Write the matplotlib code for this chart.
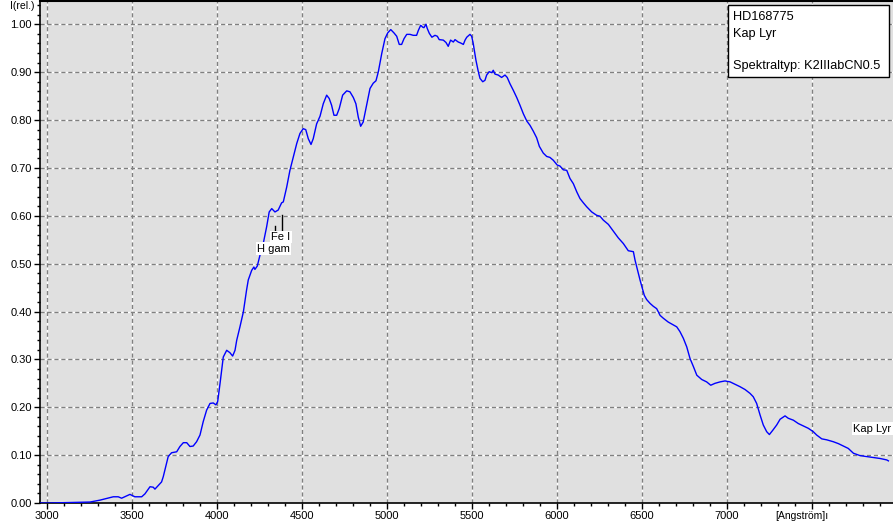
from matplotlib import pyplot as plt
from matplotlib.patches import Rectangle

plt.rcParams['font.family'] = ['Liberation Sans', 'DejaVu Sans']

# spectrum of HD168775 (Kap Lyr)
wavelength = [2965, 3019, 3255, 3314, 3392, 3421, 3441, 3490, 3519, 3559, 3578, 3608, 3627, 3637,
              3676, 3686, 3715, 3735, 3765, 3784, 3804, 3824, 3843, 3862, 3882, 3902, 3921, 3941,
              3961, 3980, 3996, 4006, 4020, 4039, 4059, 4078, 4094, 4108, 4118, 4137, 4157, 4176,
              4186, 4206, 4219, 4225, 4239, 4255, 4274, 4294, 4309, 4324, 4343, 4362, 4382, 4392,
              4412, 4431, 4451, 4471, 4490, 4509, 4524, 4539, 4555, 4568, 4588, 4608, 4627, 4647,
              4662, 4676, 4690, 4706, 4721, 4741, 4765, 4784, 4804, 4819, 4833, 4847, 4862, 4882,
              4902, 4921, 4937, 4951, 4971, 4990, 5006, 5024, 5043, 5059, 5074, 5088, 5102, 5118,
              5137, 5156, 5176, 5186, 5200, 5212, 5219, 5231, 5239, 5251, 5266, 5284, 5298, 5309,
              5333, 5349, 5362, 5376, 5392, 5402, 5421, 5435, 5451, 5461, 5471, 5490, 5500, 5509,
              5525, 5539, 5549, 5565, 5578, 5588, 5603, 5618, 5627, 5637, 5656, 5676, 5696, 5709,
              5725, 5745, 5765, 5784, 5804, 5824, 5843, 5862, 5882, 5898, 5921, 5941, 5960, 5980,
              6003, 6019, 6039, 6059, 6078, 6098, 6118, 6137, 6157, 6176, 6206, 6235, 6255, 6274,
              6304, 6333, 6362, 6392, 6421, 6451, 6461, 6476, 6490, 6506, 6515, 6529, 6549, 6568,
              6588, 6608, 6627, 6656, 6686, 6706, 6725, 6745, 6765, 6784, 6804, 6824, 6853, 6882,
              6906, 6931, 6961, 6990, 7020, 7049, 7078, 7108, 7137, 7156, 7176, 7196, 7215, 7235,
              7251, 7271, 7294, 7314, 7343, 7362, 7392, 7421, 7451, 7480, 7509, 7529, 7559, 7588,
              7627, 7657, 7686, 7715, 7745, 7784, 7824, 7863, 7902, 7941, 7951]
intensity = [0.0, 0.0, 0.002, 0.006, 0.013, 0.013, 0.01, 0.018, 0.013, 0.013, 0.019, 0.034, 0.033, 0.029,
             0.044, 0.055, 0.097, 0.105, 0.107, 0.118, 0.126, 0.126, 0.118, 0.119, 0.128, 0.142, 0.17, 0.194,
             0.208, 0.209, 0.205, 0.212, 0.25, 0.305, 0.319, 0.314, 0.307, 0.319, 0.34, 0.368, 0.399, 0.445,
             0.466, 0.486, 0.493, 0.488, 0.495, 0.518, 0.542, 0.577, 0.608, 0.615, 0.608, 0.612, 0.627, 0.629,
             0.66, 0.695, 0.723, 0.751, 0.772, 0.782, 0.78, 0.761, 0.749, 0.761, 0.792, 0.808, 0.834, 0.852,
             0.845, 0.831, 0.81, 0.81, 0.824, 0.852, 0.861, 0.859, 0.847, 0.834, 0.806, 0.787, 0.796, 0.831,
             0.866, 0.877, 0.882, 0.901, 0.939, 0.97, 0.982, 0.989, 0.982, 0.975, 0.958, 0.958, 0.97, 0.979,
             0.979, 0.977, 0.977, 0.987, 0.998, 0.994, 0.993, 1.0, 0.991, 0.981, 0.973, 0.977, 0.975, 0.968,
             0.967, 0.962, 0.954, 0.967, 0.963, 0.968, 0.963, 0.961, 0.958, 0.967, 0.973, 0.979, 0.975, 0.96,
             0.925, 0.901, 0.887, 0.88, 0.883, 0.894, 0.901, 0.899, 0.904, 0.896, 0.894, 0.889, 0.894, 0.889,
             0.876, 0.862, 0.847, 0.831, 0.813, 0.798, 0.789, 0.777, 0.763, 0.745, 0.731, 0.724, 0.722, 0.716,
             0.706, 0.704, 0.696, 0.695, 0.678, 0.667, 0.65, 0.636, 0.627, 0.619, 0.608, 0.601, 0.599, 0.591,
             0.582, 0.568, 0.554, 0.542, 0.527, 0.525, 0.507, 0.486, 0.466, 0.445, 0.434, 0.425, 0.417, 0.411,
             0.406, 0.392, 0.386, 0.378, 0.372, 0.368, 0.358, 0.344, 0.326, 0.302, 0.285, 0.267, 0.258, 0.253,
             0.246, 0.25, 0.253, 0.255, 0.253, 0.248, 0.243, 0.237, 0.229, 0.222, 0.208, 0.184, 0.163, 0.149,
             0.143, 0.152, 0.163, 0.175, 0.182, 0.177, 0.173, 0.166, 0.161, 0.156, 0.149, 0.142, 0.134, 0.132,
             0.128, 0.124, 0.119, 0.114, 0.104, 0.099, 0.097, 0.095, 0.093, 0.09, 0.088]

x_ticks = [3000, 3500, 4000, 4500, 5000, 5500, 6000, 6500, 7000, 7500]
x_labels = ['3000', '3500', '4000', '4500', '5000', '5500', '6000', '6500', '7000', '']
y_ticks = [0.0, 0.1, 0.2, 0.3, 0.4, 0.5, 0.6, 0.7, 0.8, 0.9, 1.0]

# identified lines: (name, wavelength, top, bottom)
line_names = ['Fe I', 'H gam']
line_wl = [4386, 4343]
line_top = [0.612, 0.588]
line_bottom = [0.572, 0.565]

info_lines = ['HD168775', 'Kap Lyr', '', 'Spektraltyp: K2IIIabCN0.5']

W, H = 893, 525
fig = plt.figure(figsize=(W / 100, H / 100), dpi=100)
ax = fig.add_axes([40 / W, 22 / H, (W - 40) / W, 502 / H])
ax.set_facecolor('#e0e0e0')

ax.set_xlim(2961, 7978)
ax.set_ylim(0, 1.0487)

ax.set_xticks(x_ticks)
ax.set_xticklabels(x_labels)
ax.set_xticks(range(3000, 8000, 100), minor=True)
ax.set_yticks(y_ticks)
ax.set_yticklabels(['%.2f' % v for v in y_ticks])
ax.set_yticks([i * 0.02 for i in range(53)], minor=True)
ax.tick_params(which='major', length=4, width=1, labelsize=8, direction='out', pad=2)
ax.tick_params(which='minor', length=2, width=1, direction='out')

for s in ['top', 'right']:
    ax.spines[s].set_visible(False)
for s in ['left', 'bottom']:
    ax.spines[s].set_linewidth(1.2)

# dashed grid (white underneath, grey dashes on top)
for xv in x_ticks:
    ax.axvline(xv, color='white', lw=1, zorder=0.5)
    ax.axvline(xv, color='#808080', lw=1, ls=(0, (3, 2)), zorder=0.6)
for yv in y_ticks[1:]:
    ax.axhline(yv, color='white', lw=1, zorder=0.5)
    ax.axhline(yv, color='#808080', lw=1, ls=(0, (3, 2)), zorder=0.6)
ax.plot([2961, 7978], [1.0487, 1.0487], color='black', lw=1.5, clip_on=False)

ax.plot(wavelength, intensity, color='#0000ff', lw=1, zorder=3)

# line identifications
for name, wl, top, bot in zip(line_names, line_wl, line_top, line_bottom):
    ax.plot([wl, wl], [top - 0.01, bot - 0.01], color='black', lw=1, zorder=4)
ax.text(4378, 0.556, 'Fe I', fontsize=8, ha='center', va='center', zorder=5,
        bbox=dict(facecolor='white', edgecolor='none', pad=1))
ax.text(4335, 0.531, 'H gam', fontsize=8, ha='center', va='center', zorder=5,
        bbox=dict(facecolor='white', edgecolor='none', pad=1))

ax.text(7745, 0.155, 'Kap Lyr', fontsize=8, ha='left', va='center', zorder=5,
        bbox=dict(facecolor='white', edgecolor='none', pad=1))

# info box top right
fig.patches.append(Rectangle((728 / W, 1 - 77 / H), 161 / W, 72 / H, transform=fig.transFigure,
                             facecolor='white', edgecolor='black', lw=1, zorder=10))
for i, t in enumerate(info_lines):
    fig.text(733 / W, 1 - (17 + i * 16.5) / H, t, fontsize=9.2, ha='left', va='center', zorder=11)

fig.text(10 / W, 1 - 6 / H, 'I(rel.)', fontsize=7.5, ha='left', va='center')
fig.text(775 / W, 1 - 516 / H, '[Angström]ı', fontsize=7.5, ha='left', va='center')

fig.savefig('out.png', dpi=100)
